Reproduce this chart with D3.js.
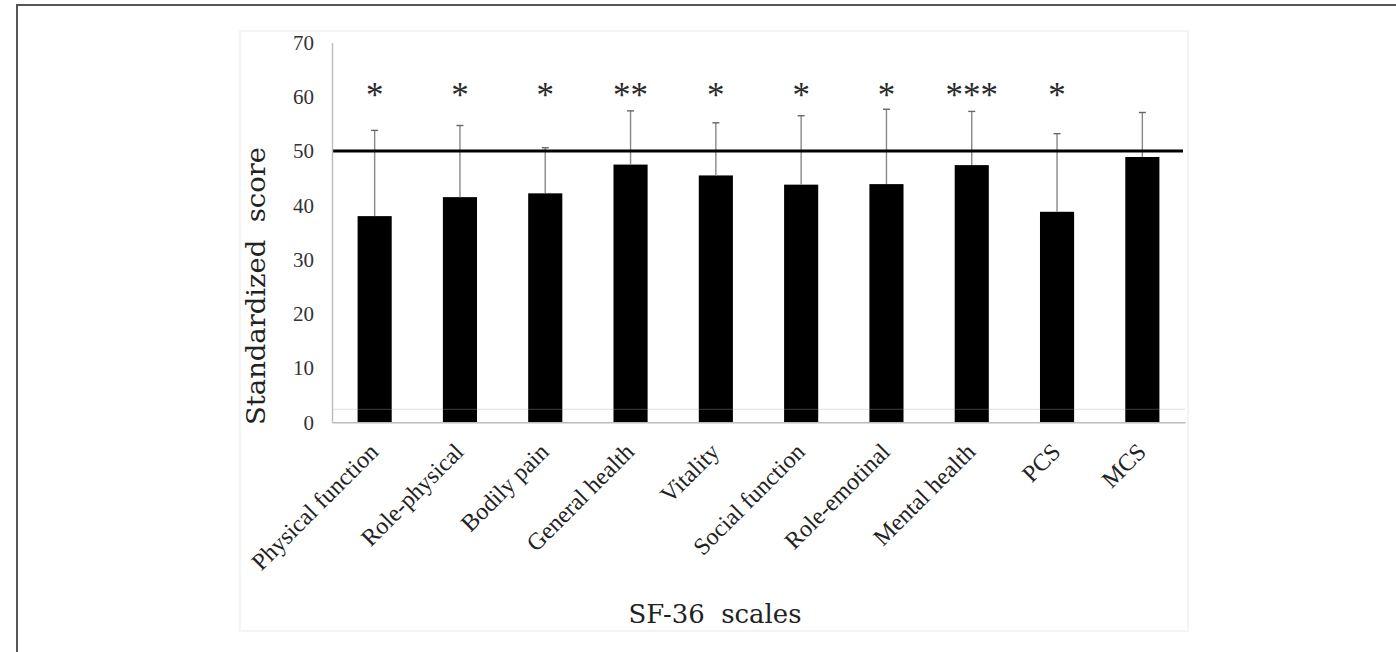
<!DOCTYPE html>
<html>
<head>
<meta charset="utf-8">
<script src="https://cdn.jsdelivr.net/npm/d3@7"></script>
<style>
  body { margin: 0; background: #fff; }
  .title { white-space: pre; }
</style>
</head>
<body>
<div id="d3-container"></div>
<script>
const categories = ['Physical function', 'Role-physical', 'Bodily pain', 'General health', 'Vitality',
  'Social function', 'Role-emotinal', 'Mental health', 'PCS', 'MCS'];
const means = [38.0, 41.5, 42.2, 47.5, 45.5, 43.8, 43.9, 47.4, 38.8, 48.9];
const sds = [15.8, 13.2, 8.4, 9.9, 9.7, 12.7, 13.8, 9.9, 14.4, 8.2];
const marks = ['*', '*', '*', '**', '*', '*', '*', '***', '*', ''];
const yTicks = [0, 10, 20, 30, 40, 50, 60, 70];
const reference = 50;

const width = 1396;
const height = 652;
const margin = {top: 42.5, bottom: 229.7, left: 332, right: 211};

const data = categories.map((c, i) => ({name: c, mean: means[i], sd: sds[i], mark: marks[i]}));

const svg = d3.select('#d3-container')
  .append('svg')
  .attr('width', width)
  .attr('height', height)
  .attr('viewBox', [0, 0, width, height]);

svg.append('rect').attr('width', width).attr('height', height).attr('fill', '#fff');

// frame of the cropped figure (top + left only)
svg.append('path')
  .attr('d', `M17,${height} V5 H${width}`)
  .attr('fill', 'none')
  .attr('stroke', '#555')
  .attr('stroke-width', 2);

// faint chart area outline
svg.append('rect')
  .attr('x', 240).attr('y', 31)
  .attr('width', 948).attr('height', 600)
  .attr('fill', 'none')
  .attr('stroke', '#f4f4f4')
  .attr('stroke-width', 2);

const x = d3.scaleBand()
  .domain(categories)
  .range([margin.left, width - margin.right])
  .paddingInner(0.6)
  .paddingOuter(0.3);

const y = d3.scaleLinear()
  .domain([0, 70])
  .range([height - margin.bottom, margin.top]);

// bars
svg.append('g')
  .attr('fill', '#000')
  .selectAll('rect')
  .data(data)
  .join('rect')
    .attr('x', d => x(d.name))
    .attr('y', d => y(d.mean))
    .attr('width', x.bandwidth())
    .attr('height', d => y(0) - y(d.mean));

// faint scan line across the bars
svg.append('line')
  .attr('x1', margin.left).attr('x2', width - margin.right)
  .attr('y1', y(2.4)).attr('y2', y(2.4))
  .attr('stroke', '#aaa')
  .attr('stroke-opacity', 0.3)
  .attr('stroke-width', 1.3);

// error bars (upper only)
const err = svg.append('g')
  .attr('stroke', '#888')
  .attr('stroke-width', 1.4);

err.selectAll('line.stem')
  .data(data)
  .join('line')
    .attr('class', 'stem')
    .attr('x1', d => x(d.name) + x.bandwidth() / 2)
    .attr('x2', d => x(d.name) + x.bandwidth() / 2)
    .attr('y1', d => y(d.mean))
    .attr('y2', d => y(d.mean + d.sd));

err.selectAll('line.cap')
  .data(data)
  .join('line')
    .attr('class', 'cap')
    .attr('stroke', '#666')
    .attr('x1', d => x(d.name) + x.bandwidth() / 2 - 3.5)
    .attr('x2', d => x(d.name) + x.bandwidth() / 2 + 3.5)
    .attr('y1', d => y(d.mean + d.sd))
    .attr('y2', d => y(d.mean + d.sd));

// reference line at 50
svg.append('line')
  .attr('x1', margin.left).attr('x2', width - margin.right - 2)
  .attr('y1', y(reference)).attr('y2', y(reference))
  .attr('stroke', '#000')
  .attr('stroke-width', 3.2);

// significance marks
svg.append('g')
  .attr('font-family', '"Liberation Serif", serif')
  .attr('font-size', 35)
  .attr('fill', '#2a2a2a')
  .attr('text-anchor', 'middle')
  .selectAll('text')
  .data(data)
  .join('text')
    .attr('x', d => x(d.name) + x.bandwidth() / 2)
    .attr('y', 107)
    .text(d => d.mark);

function yAxis(g) {
  g.attr('transform', `translate(${margin.left}, 0)`)
    .call(d3.axisLeft(y).tickValues(yTicks).tickSize(0).tickPadding(18))
    .call(g => g.select('.domain').attr('stroke', '#bbb').attr('stroke-width', 1.4))
    .attr('font-family', '"Liberation Serif", serif')
    .attr('font-size', 21)
    .call(g => g.selectAll('text').attr('fill', '#333'));
}

function xAxis(g) {
  g.attr('transform', `translate(0, ${height - margin.bottom})`)
    .call(d3.axisBottom(x).tickSize(0).tickSizeOuter(0))
    .call(g => g.select('.domain').attr('stroke', '#bbb').attr('stroke-width', 1.4))
    .attr('font-family', '"Liberation Serif", serif')
    .attr('font-size', 24);
  g.selectAll('.tick text')
    .attr('fill', '#222')
    .attr('text-anchor', 'end')
    .attr('y', 0)
    .attr('dy', 0)
    .attr('transform', 'translate(5, 31) rotate(-45)');
}

svg.append('g').call(yAxis);
svg.append('g').call(xAxis);

// axis titles
svg.append('text')
  .attr('class', 'title')
  .attr('transform', 'translate(265, 286) rotate(-90)')
  .attr('text-anchor', 'middle')
  .attr('font-family', '"DejaVu Serif", serif')
  .attr('font-size', 26)
  .attr('fill', '#222')
  .attr('textLength', 278)
  .attr('lengthAdjust', 'spacingAndGlyphs')
  .text('Standardized  score');

svg.append('text')
  .attr('class', 'title')
  .attr('x', 715)
  .attr('y', 623)
  .attr('text-anchor', 'middle')
  .attr('font-family', '"DejaVu Serif", serif')
  .attr('font-size', 26)
  .attr('fill', '#222')
  .attr('textLength', 173)
  .attr('lengthAdjust', 'spacingAndGlyphs')
  .text('SF-36  scales');

svg.node();
</script>
</body>
</html>
